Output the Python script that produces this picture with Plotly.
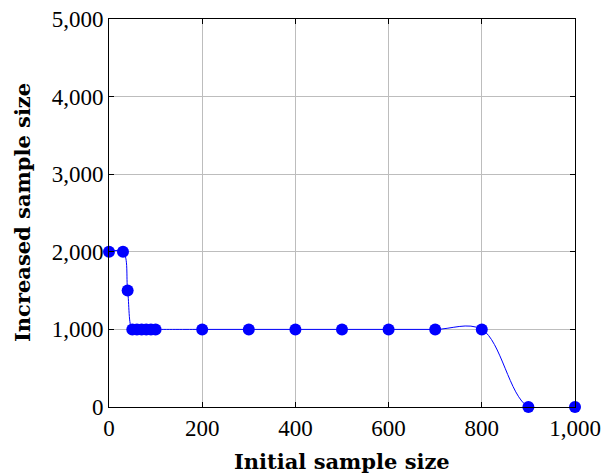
import plotly.graph_objects as go

x_vals = [0, 30, 40, 50, 60, 70, 80, 90, 100, 200, 300, 400, 500, 600, 700, 800, 900, 1000]
y_vals = [2000, 2000, 1500, 1000, 1000, 1000, 1000, 1000, 1000, 1000, 1000, 1000, 1000, 1000, 1000, 1000, 0, 0]
x_ticks = [0, 200, 400, 600, 800, 1000]
x_tick_labels = ["0", "200", "400", "600", "800", "1,000"]
y_ticks = [0, 1000, 2000, 3000, 4000, 5000]
y_tick_labels = ["0", "1,000", "2,000", "3,000", "4,000", "5,000"]
x_title = "Initial sample size"
y_title = "Increased sample size"

FONT = "Liberation Serif"
TFONT = "DejaVu Serif"

fig = go.Figure()
fig.add_trace(go.Scatter(
    x=x_vals, y=y_vals, mode="lines+markers",
    line=dict(color="#0000ff", width=1, shape="spline", smoothing=1.0),
    marker=dict(color="#0000ff", size=12),
    cliponaxis=False,
))

axis_common = dict(
    showline=True, linecolor="black", linewidth=1, mirror="ticks",
    ticks="inside", ticklen=5, tickcolor="black",
    showgrid=True, gridcolor="#bdbdbd", gridwidth=1, zeroline=False,
    tickfont=dict(family=FONT, size=23, color="black"),
    automargin=False,
)

fig.update_layout(
    width=603, height=474,
    margin=dict(l=109, r=28, t=19, b=67),
    paper_bgcolor="white", plot_bgcolor="white",
    showlegend=False,
    xaxis=dict(range=[0, 1000], tickvals=x_ticks, ticktext=x_tick_labels, **axis_common),
    yaxis=dict(range=[0, 5000], tickvals=y_ticks, ticktext=y_tick_labels, **axis_common),
    annotations=[
        dict(text="<b>" + x_title + "</b>", xref="paper", yref="paper", x=0.5, y=0,
             xanchor="center", yanchor="middle", yshift=-54, showarrow=False,
             font=dict(family=TFONT, size=21, color="black")),
        dict(text="<b>" + y_title + "</b>", xref="paper", yref="paper", x=0, y=0.5,
             xanchor="center", yanchor="middle", xshift=-87, textangle=-90, showarrow=False,
             font=dict(family=TFONT, size=21, color="black")),
    ],
)

fig.write_html("out.html")
